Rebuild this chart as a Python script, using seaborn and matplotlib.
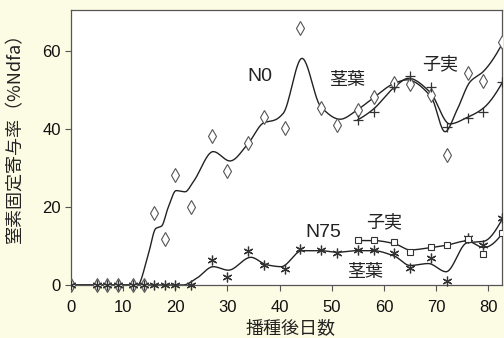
import numpy as np
import pandas as pd
import matplotlib
matplotlib.use("Agg")
import matplotlib.pyplot as plt
from matplotlib.patches import Rectangle
import seaborn as sns

# Observed N-fixation ratio (%Ndfa) by days after sowing
n0_leaf_day = [0, 5, 7, 9, 12, 14, 16, 18, 20, 23, 27, 30, 34, 37, 41, 44, 48, 51,
               55, 58, 62, 65, 69, 72, 76, 79, 82.6]
n0_leaf_val = [0, 0, 0, 0, 0, 0, 18.5, 11.7, 28.3, 20.1, 38.3, 29.1, 36.3, 43.0, 40.3,
               65.9, 45.5, 41.1, 44.9, 48.1, 51.9, 51.5, 48.7, 33.4, 54.3, 52.3, 62.2]

n0_grain_day = [55, 58, 62, 65, 69, 72, 76, 79, 82.6]
n0_grain_val = [42.3, 44.4, 50.7, 53.6, 50.7, 40.6, 42.7, 44.4, 52.0]

n75_leaf_day = [0, 5, 7, 9, 12, 14, 16, 18, 20, 23, 27, 30, 34, 37, 41, 44, 48, 51,
                55, 58, 62, 65, 69, 72, 76, 79, 82.6]
n75_leaf_val = [0, 0, 0, 0, 0, 0, 0, 0, 0, 0, 6.4, 2.1, 8.8, 5.0, 4.0, 9.3, 9.1, 8.1,
                9.0, 9.1, 8.1, 4.3, 6.8, 1.0, 12.0, 10.3, 17.1]

n75_grain_day = [55, 58, 62, 65, 69, 72, 76, 79, 82.6]
n75_grain_val = [11.5, 11.5, 10.9, 8.5, 9.7, 10.3, 11.8, 7.9, 13.4]

# Fitted trend curves (knots of the smoothed lines)
n0_leaf_fit_day = [0, 12.8, 14.9, 16.3, 17.4, 18.7, 20.2, 21.9, 23.5, 27.3, 30.5, 34, 37,
                   39.1, 40.7, 44.3, 47.9, 51.6, 54.9, 57.9, 62, 64.4, 69, 71.7, 74, 76.5,
                   79, 82.7]
n0_leaf_fit_val = [0, 0, 8.1, 14.5, 15.1, 20, 24.2, 23.9, 26.5, 34.2, 31.8, 36.3, 41.6,
                   42.3, 44, 58.1, 45.7, 42.5, 44.9, 47.9, 51.7, 52.6, 48.3, 39.3, 44.9,
                   52.1, 54.7, 62]

n0_grain_fit_day = [54.9, 57.9, 62, 64.7, 68.8, 72.6, 76, 79, 82.7]
n0_grain_fit_val = [42.3, 45.0, 50.7, 53.0, 49.5, 41.3, 43, 45.3, 52]

n75_leaf_fit_day = [0, 21.5, 24.1, 27.3, 30.2, 34.5, 37.5, 40.3, 44.3, 47.9, 51, 54.9,
                    57.9, 62, 65, 68.5, 71.9, 75.9, 79.1, 82.7]
n75_leaf_fit_val = [0, 0, 1.7, 4.7, 3.8, 7.1, 5.2, 4.7, 8.8, 8.8, 8.4, 8.8, 8.8, 7.4,
                    5.0, 5.5, 3.4, 10.8, 11.2, 17.0]

n75_grain_fit_day = [54.9, 57.9, 62, 65, 69, 72, 75.9, 79.1, 82.7]
n75_grain_fit_val = [11.4, 11.4, 10.6, 9.0, 9.6, 10.2, 11.3, 9.6, 13.3]

x_ticks = [0, 10, 20, 30, 40, 50, 60, 70, 80]
y_ticks = [0, 20, 40, 60]


def pchip(x, y, xs):
    """Monotone piecewise cubic Hermite interpolation (Fritsch-Carlson)."""
    x = np.asarray(x, float)
    y = np.asarray(y, float)
    h = np.diff(x)
    d = np.diff(y) / h
    n = len(x)
    m = np.zeros(n)
    for k in range(1, n - 1):
        if d[k - 1] * d[k] > 0:
            w1 = 2 * h[k] + h[k - 1]
            w2 = h[k] + 2 * h[k - 1]
            m[k] = (w1 + w2) / (w1 / d[k - 1] + w2 / d[k])

    def end(h0, h1, d0, d1):
        s = ((2 * h0 + h1) * d0 - h0 * d1) / (h0 + h1)
        if np.sign(s) != np.sign(d0):
            s = 0.0
        elif np.sign(d0) != np.sign(d1) and abs(s) > abs(3 * d0):
            s = 3 * d0
        return s

    if n > 2:
        m[0] = end(h[0], h[1], d[0], d[1])
        m[-1] = end(h[-1], h[-2], d[-1], d[-2])
    else:
        m[:] = d[0]
    xs = np.asarray(xs, float)
    idx = np.clip(np.searchsorted(x, xs) - 1, 0, n - 2)
    t = (xs - x[idx]) / h[idx]
    h00 = 2 * t**3 - 3 * t**2 + 1
    h10 = t**3 - 2 * t**2 + t
    h01 = -2 * t**3 + 3 * t**2
    h11 = t**3 - t**2
    return (h00 * y[idx] + h10 * h[idx] * m[idx]
            + h01 * y[idx + 1] + h11 * h[idx] * m[idx + 1])


def curve_frame(days, vals):
    xs = np.linspace(days[0], days[-1], 600)
    return pd.DataFrame({"day": xs, "val": pchip(days, vals, xs)})


sns.set_theme(style="white")
plt.rcParams["font.family"] = ["Liberation Sans", "Noto Sans CJK JP", "DejaVu Sans"]
cjk = ["Noto Sans CJK JP", "DejaVu Sans"]

bg = "#fcfce4"
fig = plt.figure(figsize=(5.04, 3.38), dpi=100, facecolor=bg)
ax = fig.add_axes([0.1403, 0.1568, 0.997 - 0.1403, 0.9704 - 0.1568])
ax.set_facecolor("white")

line_kw = dict(color="#222222", linewidth=1.0, estimator=None, errorbar=None,
               sort=False, legend=False, ax=ax)
for days, vals in [(n0_leaf_fit_day, n0_leaf_fit_val),
                   (n0_grain_fit_day, n0_grain_fit_val),
                   (n75_leaf_fit_day, n75_leaf_fit_val),
                   (n75_grain_fit_day, n75_grain_fit_val)]:
    sns.lineplot(data=curve_frame(days, vals), x="day", y="val", **line_kw)

# clip region: open below the x axis so markers at zero show fully
clip_rect = Rectangle((0, -0.1), 1, 1.2, transform=ax.transAxes,
                      facecolor="none", edgecolor="none")
ax.add_patch(clip_rect)

marker_specs = [
    (n0_leaf_day, n0_leaf_val, dict(marker="d", markersize=7, markerfacecolor="white",
                                    markeredgecolor="#555555", markeredgewidth=0.8)),
    (n0_grain_day, n0_grain_val, dict(marker="+", markersize=7,
                                      markeredgecolor="#333333", markeredgewidth=0.9)),
    (n75_leaf_day, n75_leaf_val, dict(marker=(6, 2, 0), markersize=7,
                                      markeredgecolor="#333333", markeredgewidth=0.9)),
    (n75_grain_day, n75_grain_val, dict(marker="s", markersize=5, markerfacecolor="white",
                                        markeredgecolor="#333333", markeredgewidth=0.8)),
]
for days, vals, mk in marker_specs:
    df = pd.DataFrame({"day": days, "val": vals})
    n_before = len(ax.lines)
    sns.lineplot(data=df, x="day", y="val", linestyle="none", estimator=None,
                 errorbar=None, sort=False, legend=False, ax=ax, **mk)
    for ln in ax.lines[n_before:]:
        ln.set_clip_path(clip_rect)
        ln.set_zorder(3)

ax.set_xlim(0, 82.7)
ax.set_ylim(0, 70.5)
ax.set_xticks(x_ticks)
ax.set_yticks(y_ticks)
ax.tick_params(axis="both", which="major", direction="out", length=4, width=0.8,
               color="#555555", labelsize=12, labelcolor="#111111")
ax.tick_params(axis="x", pad=7)
ax.tick_params(axis="y", pad=3)
ax.xaxis.set_ticks_position("bottom")
ax.yaxis.set_ticks_position("left")
for sp in ax.spines.values():
    sp.set_visible(True)
    sp.set_color("#555555")
    sp.set_linewidth(0.9)

ax.set_xlabel("播種後日数", fontsize=13, family=cjk, color="#222222")
ax.xaxis.set_label_coords(0.508, -0.125)
ax.set_ylabel("窒素固定寄与率（%Ndfa）", fontsize=13, family=cjk, color="#222222")
ax.yaxis.set_label_coords(-0.107, 0.55)

txt = dict(ha="center", va="center", color="#222222")
ax.text(36.3, 53.4, "N0", fontsize=14, **txt)
ax.text(48.4, 13.5, "N75", fontsize=14, **txt)
ax.text(52.9, 52.6, "茎葉", fontsize=13, family=cjk, **txt)
ax.text(70.7, 56.7, "子実", fontsize=13, family=cjk, **txt)
ax.text(60.1, 16.2, "子実", fontsize=13, family=cjk, **txt)
ax.text(56.4, 3.4, "茎葉", fontsize=13, family=cjk, **txt)

fig.savefig("out.png", dpi=100, facecolor=bg)
